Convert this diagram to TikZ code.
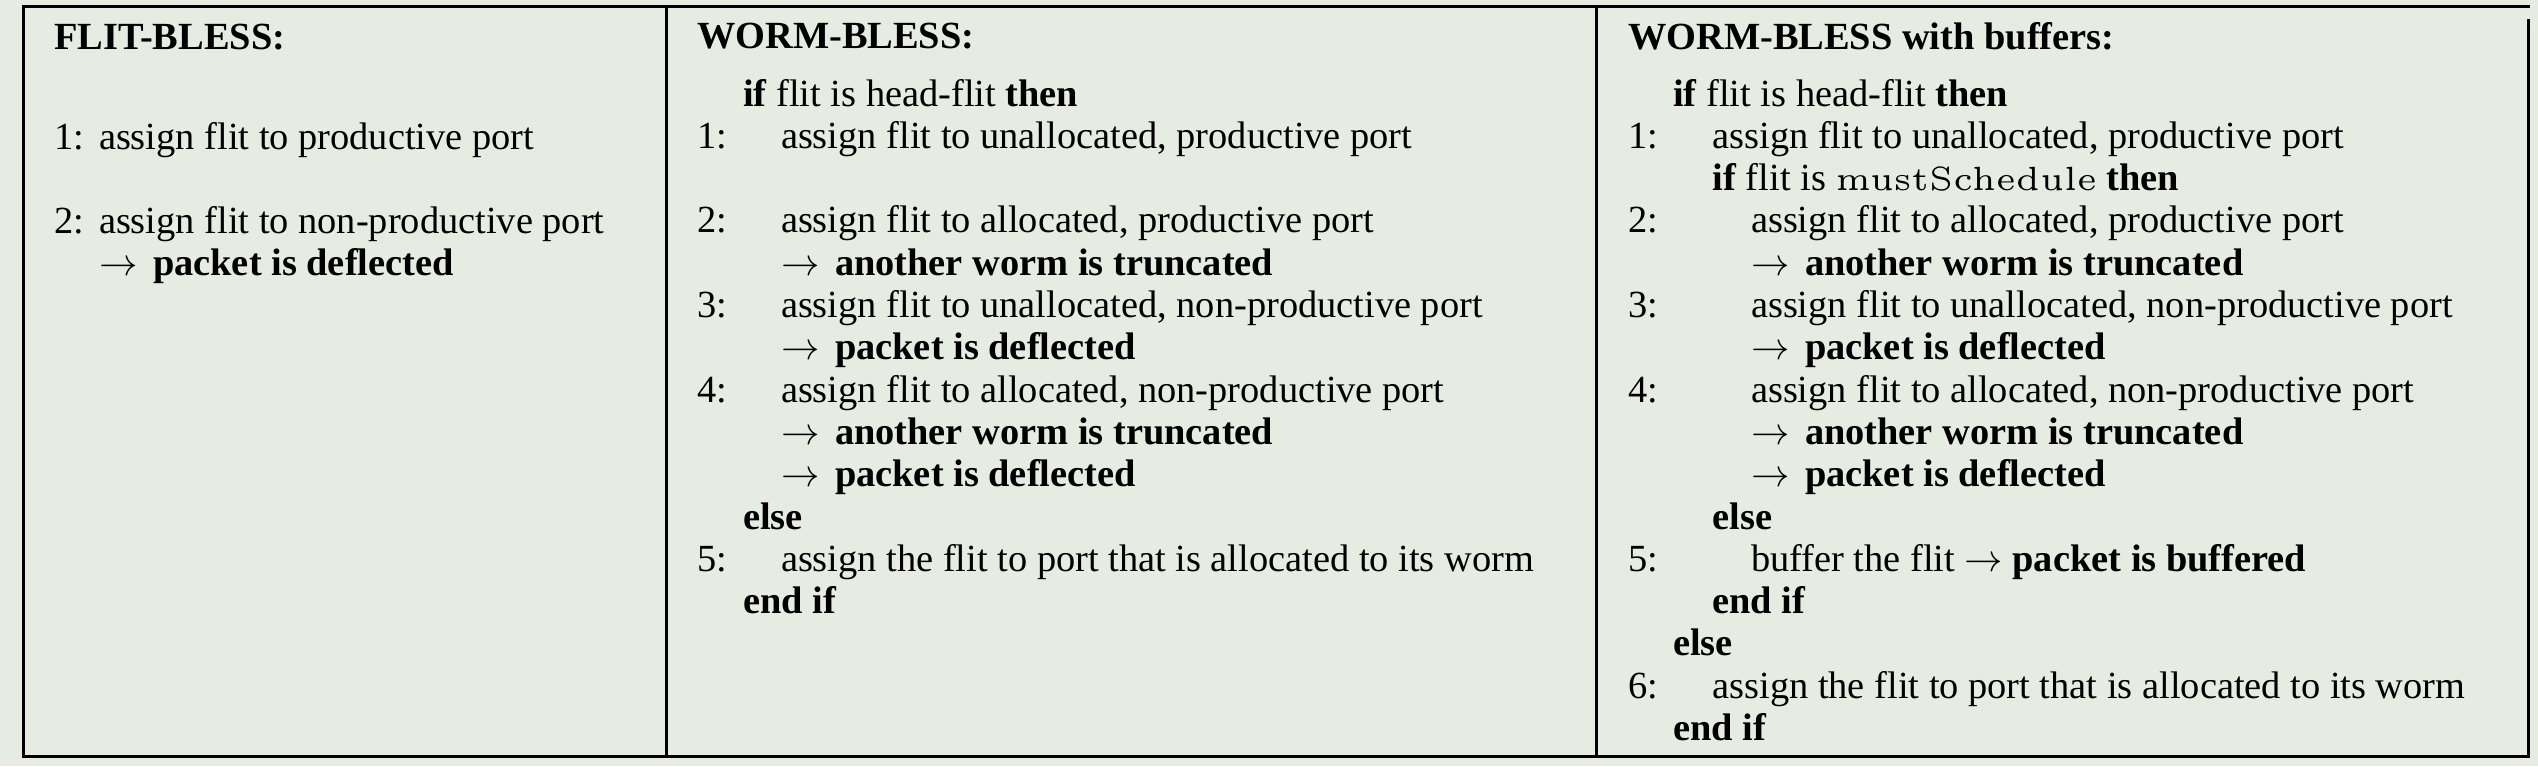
\RequirePackage{fix-cm}
\documentclass[tikz,border=0pt]{standalone}
\usepackage{fontspec}
\setmainfont{Liberation Serif}
\definecolor{bgcol}{RGB}{230,236,226}
\newcommand{\arr}{$\rightarrow$\hspace{6pt}}
\newcommand{\msch}{\scalebox{6.45}[6.72]{\fontfamily{lmr}\fontsize{5}{6}\selectfont mustSchedule}}
\tikzset{
  txt/.style={anchor=base west, inner sep=0pt, outer sep=0pt, font=\fontsize{38.4}{42}\selectfont},
  framelines/.style={line width=3pt, draw=black}
}
\begin{document}
\begin{tikzpicture}[x=1pt,y=-1pt]
\fill[bgcol] (0,0) rectangle (2538,766);
\useasboundingbox (0,0) rectangle (2538,766);
% frame
\draw[framelines] (2528,19) -- (2528,756) -- (23,756) -- (23,6) -- (2529.5,6);
\draw[framelines] (666.5,6) -- (666.5,756);
\draw[framelines] (1596.5,6) -- (1596.5,756);
% column 1
\node[txt] (h1) at (54,49) {\textbf{FLIT-BLESS:}};
\node[txt] (a1n) at (54,149) {1:};
\node[txt] (a1t) at (99,149) {assign flit to productive port};
\node[txt] (a2n) at (54,233) {2:};
\node[txt] (a2t) at (99,233) {assign flit to non-productive port};
\node[txt] (a2r) at (99,275) {\arr\ \textbf{packet is deflected}};
% column 2
\node[txt] (h2) at (697,48) {\textbf{WORM-BLESS:}};
\node[txt] (b0) at (743,106) {\textbf{if} flit is head-flit \textbf{then}};
\node[txt] (b1n) at (697,148.3) {1:};
\node[txt] (b1t) at (781,148.3) {assign flit to unallocated, productive port};
\node[txt] (b2n) at (697,232.9) {2:};
\node[txt] (b2t) at (781,232.9) {assign flit to allocated, productive port};
\node[txt] (b2r) at (781,275.2) {\arr\ \textbf{another worm is truncated}};
\node[txt] (b3n) at (697,317.5) {3:};
\node[txt] (b3t) at (781,317.5) {assign flit to unallocated, non-productive port};
\node[txt] (b3r) at (781,359.8) {\arr\ \textbf{packet is deflected}};
\node[txt] (b4n) at (697,402.1) {4:};
\node[txt] (b4t) at (781,402.1) {assign flit to allocated, non-productive port};
\node[txt] (b4r) at (781,444.4) {\arr\ \textbf{another worm is truncated}};
\node[txt] (b4s) at (781,486.7) {\arr\ \textbf{packet is deflected}};
\node[txt] (be) at (743,529) {\textbf{else}};
\node[txt] (b5n) at (697,571.3) {5:};
\node[txt] (b5t) at (781,571.3) {assign the flit to port that is allocated to its worm};
\node[txt] (bf) at (743,613.6) {\textbf{end if}};
% column 3
\node[txt] (h3) at (1628,49) {\textbf{WORM-BLESS with buffers:}};
\node[txt] (c0) at (1673,106) {\textbf{if} flit is head-flit \textbf{then}};
\node[txt] (c1n) at (1628,148.3) {1:};
\node[txt] (c1t) at (1712.5,148.3) {assign flit to unallocated, productive port};
\node[txt] (c1i) at (1712.5,190.6) {\textbf{if} flit is \msch\ \textbf{then}};
\node[txt] (c2n) at (1628,232.9) {2:};
\node[txt] (c2t) at (1751,232.9) {assign flit to allocated, productive port};
\node[txt] (c2r) at (1751,275.2) {\arr\ \textbf{another worm is truncated}};
\node[txt] (c3n) at (1628,317.5) {3:};
\node[txt] (c3t) at (1751,317.5) {assign flit to unallocated, non-productive port};
\node[txt] (c3r) at (1751,359.8) {\arr\ \textbf{packet is deflected}};
\node[txt] (c4n) at (1628,402.1) {4:};
\node[txt] (c4t) at (1751,402.1) {assign flit to allocated, non-productive port};
\node[txt] (c4r) at (1751,444.4) {\arr\ \textbf{another worm is truncated}};
\node[txt] (c4s) at (1751,486.7) {\arr\ \textbf{packet is deflected}};
\node[txt] (ce1) at (1712.5,529) {\textbf{else}};
\node[txt] (c5n) at (1628,571.3) {5:};
\node[txt] (c5t) at (1751,571.3) {buffer the flit $\rightarrow$\ \textbf{packet is buffered}};
\node[txt] (cf1) at (1712.5,613.6) {\textbf{end if}};
\node[txt] (ce0) at (1673,655.9) {\textbf{else}};
\node[txt] (c6n) at (1628,698.2) {6:};
\node[txt] (c6t) at (1712.5,698.2) {assign the flit to port that is allocated to its worm};
\node[txt] (cf0) at (1673,740.5) {\textbf{end if}};
\end{tikzpicture}
\end{document}
